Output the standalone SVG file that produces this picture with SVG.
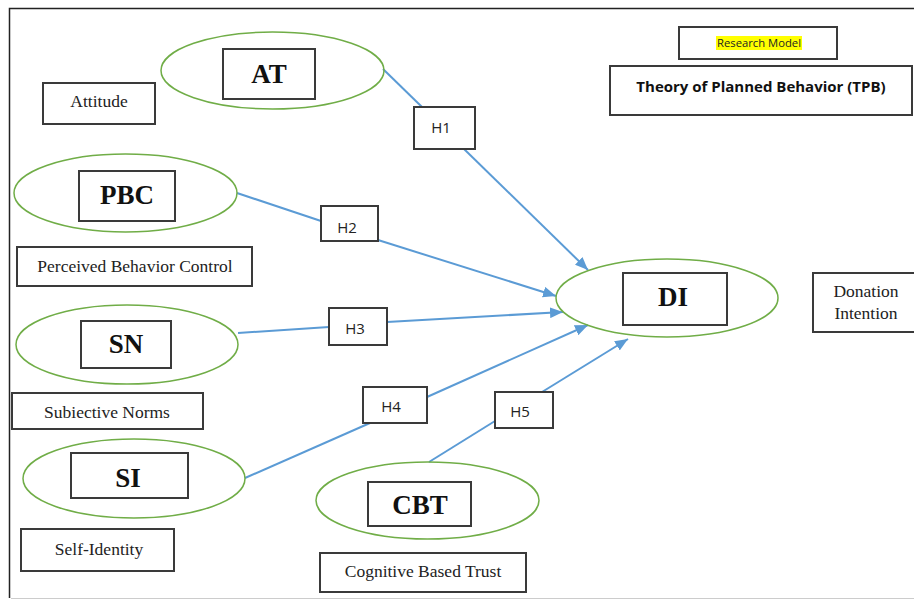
<svg xmlns="http://www.w3.org/2000/svg" width="914" height="605" viewBox="0 0 914 605">
<style>
.ell{fill:none;stroke:#70AD47;stroke-width:1.5}
.box{fill:#fff;stroke:#3a3a3a;stroke-width:2}
.big{font-family:"Liberation Serif","Times New Roman",serif;font-weight:bold;font-size:27px;fill:#111;text-anchor:middle}
.lbl{font-family:"Liberation Serif","Times New Roman",serif;font-size:17.5px;fill:#222;text-anchor:middle}
.h{font-family:"Open Sans","Liberation Sans",sans-serif;font-size:15px;fill:#222;text-anchor:middle}
.conn{fill:none;stroke:#5B9BD5;stroke-width:2}
</style>
<defs>
<marker id="arr" viewBox="0 0 12 10" refX="12" refY="5" markerWidth="13" markerHeight="11" markerUnits="userSpaceOnUse" orient="auto">
<path d="M0,0 L12,5 L0,10 z" fill="#5B9BD5"/>
</marker>
</defs>
<rect x="0" y="0" width="914" height="605" fill="#fff"/>
<path d="M9.5,598 V8.5 H914" fill="none" stroke="#222" stroke-width="1.5"/>
<line x1="11" y1="598.5" x2="914" y2="598.5" stroke="#ccc" stroke-width="1"/>

<g id="connectors">
<line class="conn" x1="383" y1="69" x2="422" y2="107"/>
<line class="conn" x1="464" y1="149" x2="588" y2="270" marker-end="url(#arr)"/>
<line class="conn" x1="237" y1="193" x2="321" y2="221"/>
<line class="conn" x1="378" y1="240" x2="556" y2="296" marker-end="url(#arr)"/>
<line class="conn" x1="238" y1="333" x2="329" y2="327"/>
<line class="conn" x1="387" y1="322" x2="563" y2="312" marker-end="url(#arr)"/>
<line class="conn" x1="245" y1="478" x2="370" y2="423"/>
<line class="conn" x1="427" y1="397" x2="588" y2="325" marker-end="url(#arr)"/>
<line class="conn" x1="429" y1="462" x2="495" y2="421"/>
<line class="conn" x1="542" y1="392" x2="628" y2="339" marker-end="url(#arr)"/>
</g>

<g id="node-AT">
<ellipse class="ell" cx="272.5" cy="70.5" rx="111.5" ry="38.5"/>
<rect class="box" x="223" y="49" width="92" height="50"/>
<text class="big" x="269" y="83">AT</text>
</g>
<g id="label-attitude">
<rect class="box" x="43" y="83" width="112" height="41"/>
<text class="lbl" x="99" y="107">Attitude</text>
</g>
<g id="node-PBC">
<ellipse class="ell" cx="125.5" cy="193" rx="111.5" ry="39"/>
<rect class="box" x="79" y="171" width="96" height="50"/>
<text class="big" x="127" y="204">PBC</text>
</g>
<g id="label-pbc">
<rect class="box" x="17" y="247" width="235" height="39"/>
<text class="lbl" x="135" y="272">Perceived Behavior  Control</text>
</g>
<g id="node-SN">
<ellipse class="ell" cx="127" cy="344.5" rx="111" ry="39.5"/>
<rect class="box" x="81" y="321" width="90" height="47"/>
<text class="big" x="126" y="353">SN</text>
</g>
<g id="label-sn">
<rect class="box" x="12" y="393" width="191" height="36"/>
<text class="lbl" x="107" y="418">Subiective Norms</text>
</g>
<g id="node-SI">
<ellipse class="ell" cx="134" cy="478.5" rx="111" ry="39.5"/>
<rect class="box" x="71" y="453" width="117" height="45"/>
<text class="big" x="128" y="487">SI</text>
</g>
<g id="label-si">
<rect class="box" x="21" y="529" width="153" height="42"/>
<text class="lbl" x="99" y="555">Self-Identity</text>
</g>
<g id="node-CBT">
<ellipse class="ell" cx="427.5" cy="500.5" rx="111.5" ry="38.5"/>
<rect class="box" x="368" y="482" width="103" height="44"/>
<text class="big" x="420" y="514">CBT</text>
</g>
<g id="label-cbt">
<rect class="box" x="320" y="553" width="206" height="39"/>
<text class="lbl" x="423" y="577">Cognitive Based Trust</text>
</g>
<g id="node-DI">
<ellipse class="ell" cx="667" cy="298" rx="111" ry="39"/>
<rect class="box" x="623" y="273" width="104" height="52"/>
<text class="big" x="673" y="306">DI</text>
</g>
<g id="label-di">
<rect class="box" x="813" y="273" width="110" height="59"/>
<text class="lbl" x="866" y="297">Donation</text>
<text class="lbl" x="866" y="319">Intention</text>
</g>
<g id="H1"><rect class="box" x="414" y="107" width="61" height="42"/><text class="h" x="441" y="133">H1</text></g>
<g id="H2"><rect class="box" x="321" y="206" width="57" height="35"/><text class="h" x="347" y="233">H2</text></g>
<g id="H3"><rect class="box" x="329" y="308" width="58" height="37"/><text class="h" x="355" y="334">H3</text></g>
<g id="H4"><rect class="box" x="363" y="387" width="64" height="36"/><text class="h" x="391" y="412">H4</text></g>
<g id="H5"><rect class="box" x="495" y="392" width="58" height="36"/><text class="h" x="520" y="417">H5</text></g>
<g id="research-model">
<rect class="box" x="679" y="27" width="158" height="32"/>
<rect x="716" y="36" width="86" height="14" fill="#FFFF00"/>
<text x="759" y="47" font-family="Open Sans,Liberation Sans,sans-serif" font-size="10" fill="#222" text-anchor="middle" textLength="84" lengthAdjust="spacingAndGlyphs">Research Model</text>
</g>
<g id="tpb">
<rect class="box" x="610" y="66" width="302" height="49"/>
<text x="761" y="92" font-family="Open Sans,Liberation Sans,sans-serif" font-size="15" font-weight="bold" fill="#111" text-anchor="middle">Theory of Planned Behavior (TPB)</text>
</g>
</svg>
